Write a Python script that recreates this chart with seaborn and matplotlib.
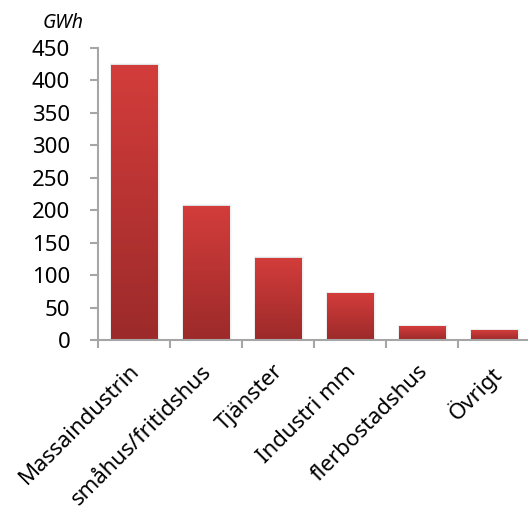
import numpy as np
import pandas as pd
import matplotlib
matplotlib.use("Agg")
import matplotlib.pyplot as plt
import matplotlib.transforms as mtransforms
import seaborn as sns
from matplotlib.colors import LinearSegmentedColormap

categories = ["Massaindustrin", "småhus/fritidshus", "Tjänster", "Industri mm", "flerbostadshus", "Övrigt"]
values = [424, 207, 127, 72, 21, 15]
yticks = [0, 50, 100, 150, 200, 250, 300, 350, 400, 450]

sns.set_theme(style="white")
plt.rcParams['font.family'] = ['Noto Sans', 'DejaVu Sans']
plt.rcParams['text.color'] = 'black'
plt.rcParams['xtick.color'] = 'black'
plt.rcParams['ytick.color'] = 'black'

fig = plt.figure(figsize=(5.28, 5.12), dpi=100)
ax = fig.add_axes([98/528, 1-340/512, 432/528, 292/512])

df = pd.DataFrame({"cat": categories, "val": values})
sns.barplot(data=df, x="cat", y="val", ax=ax, color="#C83634", width=0.64, saturation=1)

cmap = LinearSegmentedColormap.from_list("g", ["#9C2A2A", "#D33D3B"])
grad = np.linspace(0, 1, 256).reshape(-1, 1)
for p in list(ax.patches):
    x0, y0 = p.get_x(), p.get_y()
    w, h = p.get_width(), p.get_height()
    # soft shadow
    for k, a in enumerate([0.05, 0.04, 0.03]):
        d = 0.02 * (k + 1)
        sh = plt.Rectangle((x0 - d * 0.3, y0), w + d * 0.9, h + 2 * (k + 1) * 0.4, color="black",
                           alpha=a, lw=0, zorder=1)
        ax.add_patch(sh)
    im = ax.imshow(grad, extent=[x0, x0 + w, y0, y0 + h], origin="lower", cmap=cmap,
                   aspect="auto", zorder=2)
    im.set_clip_path(p)
    p.set_alpha(0)

ax.set_xlim(-0.5, 5.5)
ax.set_ylim(0, 450)
ax.set_yticks(yticks)
ax.set_yticklabels([str(v) for v in yticks], fontsize=16, color="black")
ax.set_xlabel("")
ax.set_ylabel("")

ax.set_xticks(np.arange(-0.5, 6, 1))
ax.set_xticklabels([])
ax.set_xticks(np.arange(0, 6), minor=True)
ax.set_xticklabels(categories, minor=True, rotation=45, ha="right", rotation_mode="anchor",
                   fontsize=16, color="black")
ax.tick_params(axis="x", which="minor", length=0, pad=15)
ax.tick_params(axis="x", which="major", length=6, width=1.5, color="#A6A6A6", direction="out", bottom=True)
ax.tick_params(axis="y", length=6, width=1.5, color="#A6A6A6", direction="out", left=True, pad=14)

offset = mtransforms.ScaledTranslation(-5/100, 0, fig.dpi_scale_trans)
for lbl in ax.get_xticklabels(minor=True):
    lbl.set_transform(lbl.get_transform() + offset)

for s in ["top", "right"]:
    ax.spines[s].set_visible(False)
for s in ["left", "bottom"]:
    ax.spines[s].set_color("#A6A6A6")
    ax.spines[s].set_linewidth(1.5)

fig.text(63/528, 1-23/512, "GWh", fontsize=14, style="italic", ha="center", va="center")

fig.savefig("out.png", dpi=100)
